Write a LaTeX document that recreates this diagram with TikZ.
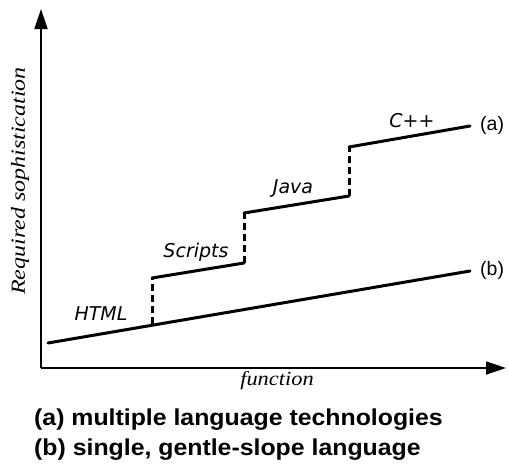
\documentclass[tikz,border=0pt]{standalone}
\usepackage{fontspec}
\setmainfont{Liberation Serif}
\setsansfont{Liberation Sans}
\newfontfamily\labfont{DejaVu Sans}
\usetikzlibrary{arrows.meta}
\begin{document}
\begin{tikzpicture}[x=1pt,y=-1pt,
  axis/.style={line width=1.8pt,-{Triangle[length=20pt,width=13pt]}},
  curve/.style={line width=3pt,line cap=round},
  riser/.style={line width=3pt,dash pattern=on 7pt off 4pt},
  tech/.style={font=\labfont\itshape\fontsize{19}{21}\selectfont,inner sep=0pt,anchor=base},
  tag/.style={font=\sffamily\fontsize{19.5}{21}\selectfont,inner sep=0pt,anchor=base west},
  axlab/.style={font=\rmfamily\itshape\fontsize{20}{22}\selectfont,inner sep=0pt},
  legend/.style={font=\sffamily\bfseries\fontsize{23}{25}\selectfont,anchor=base west,inner sep=0pt}]
\useasboundingbox (0,0) rectangle (509,464);
% axes
\coordinate (O) at (41,368);
\coordinate (ytip) at (41,9);
\coordinate (xtip) at (506,368);
\draw[axis] (O) -- (ytip);
\draw[axis] (O) -- (xtip);
% line (b)
\coordinate (b0) at (48,343);
\coordinate (b1) at (152,324);
\coordinate (b2) at (470,271);
\draw[curve] (b0) -- (b2);
% line (a)
\coordinate (a1) at (152,278);
\coordinate (a2) at (244,263);
\coordinate (a3) at (244,213);
\coordinate (a4) at (349,196);
\coordinate (a5) at (349,147);
\coordinate (a6) at (470,126);
\draw[riser] (b1) -- (a1);
\draw[curve] (a1) -- (a2);
\draw[riser] (a2) -- (a3);
\draw[curve] (a3) -- (a4);
\draw[riser] (a4) -- (a5);
\draw[curve] (a5) -- (a6);
% labels
\node[tech] (html) at (101,320) {HTML};
\node[tech] (scr) at (196,257) {Scripts};
\node[tech] (java) at (293,193) {Java};
\node[tech] (cpp) at (412,127) {C++};
\node[tag] (ta) at (480,130) {(a)};
\node[tag] (tb) at (480,275) {(b)};
\node[axlab,rotate=90] (ylab) at (20,181) {\scalebox{1.2}[1]{Required sophistication}};
\node[axlab] (xlab) at (277,381) {\scalebox{1.12}[1]{function}};
\node[legend] (la) at (34,425) {\scalebox{1.08}[1]{(a) multiple language technologies}};
\node[legend] (lb) at (34,455) {\scalebox{1.08}[1]{(b) single, gentle-slope language}};
\end{tikzpicture}
\end{document}
